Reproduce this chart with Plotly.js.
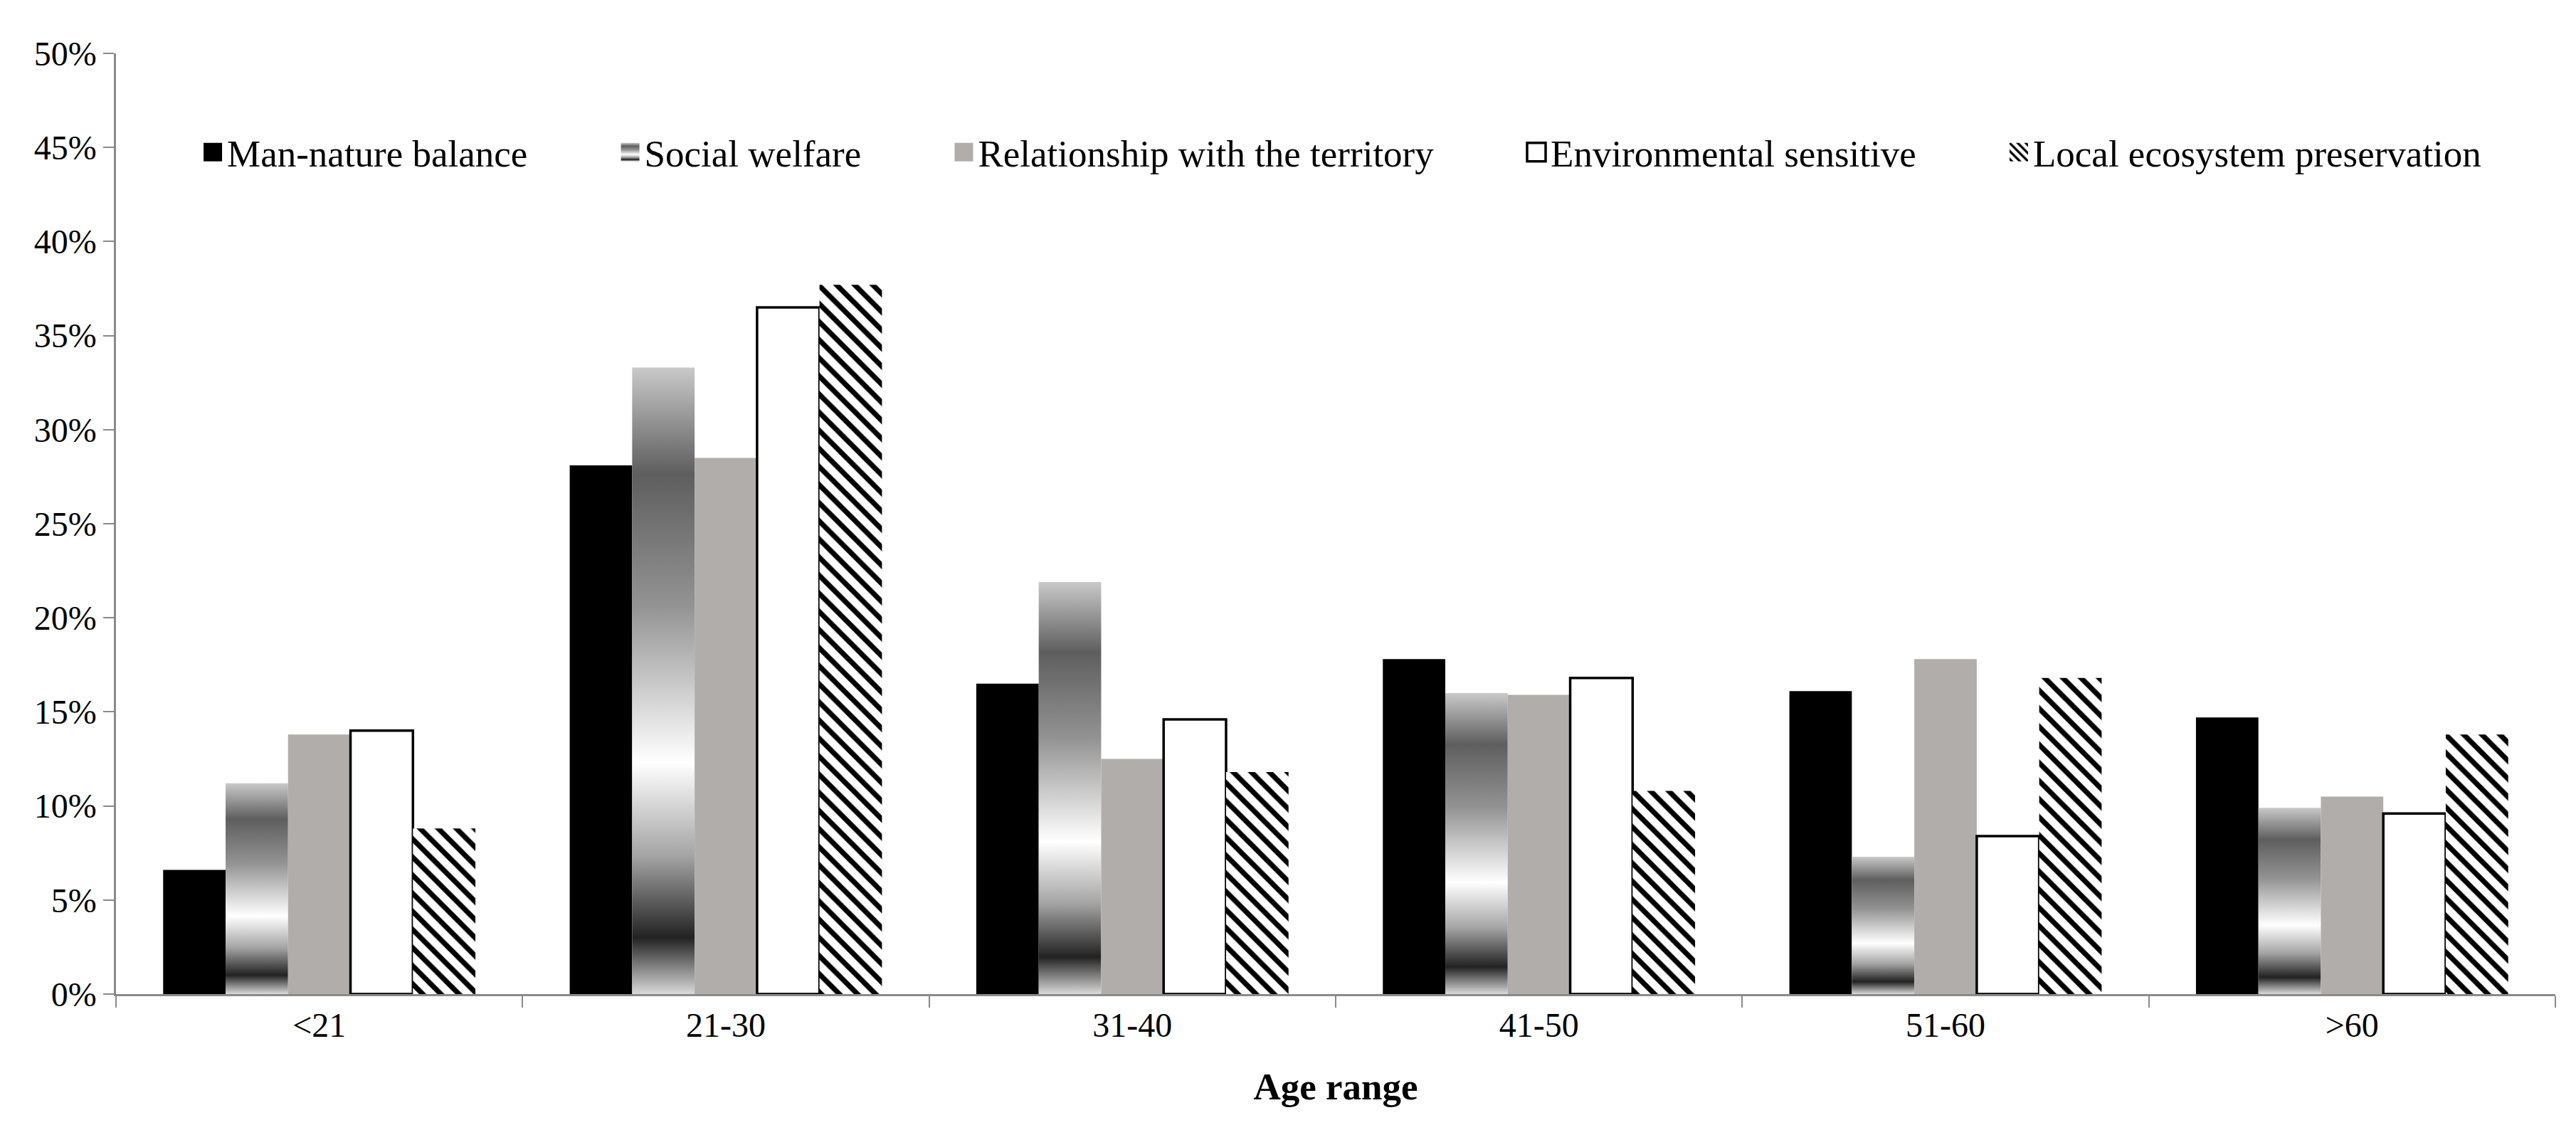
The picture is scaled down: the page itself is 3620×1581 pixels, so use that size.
<!DOCTYPE html>
<html>
<head>
<meta charset="utf-8">
<script src="https://cdn.plot.ly/plotly-3.0.1.min.js"></script>
<style>
  html, body { margin: 0; padding: 0; background: #ffffff; }
  #chart { width: 3620px; height: 1581px; }
</style>
</head>
<body>
<div id="chart"></div>
<script>
// ---- data (percent) ----
const categories = ['<21', '21-30', '31-40', '41-50', '51-60', '>60'];
const seriesNames = ['Man-nature balance', 'Social welfare', 'Relationship with the territory', 'Environmental sensitive', 'Local ecosystem preservation'];
const manNatureBalance = [6.6, 28.1, 16.5, 17.8, 16.1, 14.7];
const socialWelfare = [11.2, 33.3, 21.9, 16.0, 7.3, 9.9];
const relationshipTerritory = [13.8, 28.5, 12.5, 15.9, 17.8, 10.5];
const environmentalSensitive = [14.0, 36.5, 14.6, 16.8, 8.4, 9.6];
const localEcosystem = [8.8, 37.7, 11.8, 10.8, 16.8, 13.8];
const yTickValues = [0, 5, 10, 15, 20, 25, 30, 35, 40, 45, 50];

const FONT = 'Liberation Serif, Times New Roman, serif';
const PAD = '\u00a0'.repeat(9);

const traces = [
  { name: seriesNames[0] + PAD, y: manNatureBalance, marker: { color: '#000000', line: { width: 0 } } },
  { name: seriesNames[1] + PAD, y: socialWelfare, marker: { color: '#8c8c8c', line: { width: 0 } } },
  { name: seriesNames[2] + PAD, y: relationshipTerritory, marker: { color: '#b1adab', line: { width: 0 } } },
  { name: seriesNames[3] + PAD, y: environmentalSensitive, marker: { color: '#ffffff', line: { width: 3.5, color: '#000000' } } },
  { name: seriesNames[4], y: localEcosystem, marker: { color: '#ffffff', line: { width: 0 },
      pattern: { shape: '\\', fgcolor: '#000000', bgcolor: '#ffffff', size: 18, solidity: 0.4 } } }
].map(t => Object.assign({ type: 'bar', x: categories, hoverinfo: 'x+y+name' }, t));

const layout = {
  width: 3620,
  height: 1581,
  paper_bgcolor: '#ffffff',
  plot_bgcolor: '#ffffff',
  margin: { l: 163, r: 29, t: 75, b: 184 },
  barmode: 'group',
  bargap: 0.232,
  bargroupgap: 0,
  font: { family: FONT, size: 48, color: '#000000' },
  showlegend: true,
  legend: {
    orientation: 'h',
    x: 0.5025, xanchor: 'center',
    y: 0.895, yanchor: 'middle',
    font: { family: FONT, size: 53, color: '#000000' },
    bgcolor: 'rgba(0,0,0,0)',
    traceorder: 'normal'
  },
  xaxis: {
    type: 'category',
    showline: true, linecolor: '#8a8a8a', linewidth: 2.5,
    ticks: 'outside', tickson: 'boundaries', ticklen: 16, tickwidth: 2, tickcolor: '#8a8a8a',
    showgrid: false, zeroline: false,
    tickfont: { family: FONT, size: 48, color: '#000000' },
    title: { text: 'Age range', font: { family: FONT, size: 53, color: '#000000', weight: 'bold' }, standoff: 42 }
  },
  yaxis: {
    range: [0, 50],
    tickvals: yTickValues,
    ticktext: yTickValues.map(v => v + '%'),
    showline: true, linecolor: '#8a8a8a', linewidth: 2.5,
    ticks: 'outside', ticklen: 15, tickwidth: 2, tickcolor: '#8a8a8a',
    showgrid: false, zeroline: false,
    tickfont: { family: FONT, size: 48, color: '#000000' }
  }
};

function decorate(gd) {
  const svg = gd.querySelector('svg.main-svg');
  if (!svg) return;
  let defs = svg.querySelector('defs');
  if (!defs) { defs = document.createElementNS('http://www.w3.org/2000/svg', 'defs'); svg.insertBefore(defs, svg.firstChild); }
  if (!document.getElementById('swGrad')) {
    const ns = 'http://www.w3.org/2000/svg';
    const g = document.createElementNS(ns, 'linearGradient');
    g.setAttribute('id', 'swGrad');
    g.setAttribute('x1', '0'); g.setAttribute('y1', '0');
    g.setAttribute('x2', '0'); g.setAttribute('y2', '1');
    const stops = [[0, '#c9c9c9'], [0.17, '#5e5e5e'], [0.38, '#939393'], [0.63, '#ffffff'], [0.78, '#a4a4a4'], [0.91, '#222222'], [1, '#dadada']];
    stops.forEach(s => {
      const st = document.createElementNS(ns, 'stop');
      st.setAttribute('offset', s[0]);
      st.setAttribute('stop-color', s[1]);
      g.appendChild(st);
    });
    defs.appendChild(g);
  }
  const barTraces = gd.querySelectorAll('.barlayer .trace');
  if (barTraces[1]) barTraces[1].querySelectorAll('path').forEach(p => { p.style.fill = 'url(#swGrad)'; });
  const legItems = gd.querySelectorAll('.legend .traces');
  legItems.forEach((item, i) => {
    const p = item.querySelector('.legendpoints path');
    if (p) {
      p.setAttribute('d', 'M13,13H-13V-13H13Z');
      if (i === 1) p.style.fill = 'url(#swGrad)';
    }
  });
}

const gd = document.getElementById('chart');
Plotly.newPlot(gd, traces, layout, { displayModeBar: false, responsive: false }).then(() => {
  decorate(gd);
  gd.on('plotly_afterplot', () => decorate(gd));
});
</script>
</body>
</html>
